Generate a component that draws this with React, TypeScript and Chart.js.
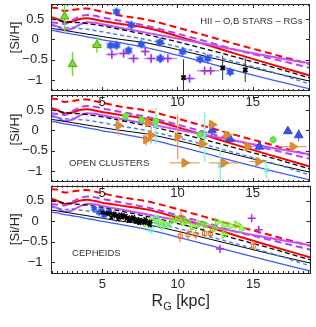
import React, { useEffect, useRef } from "react";
import { Chart, registerables } from "chart.js";
Chart.register(...registerables);

// ---------- axes ----------
const X_MIN = 1.6;
const X_MAX = 18.8;
const Y_MIN = -1.27;
const Y_MAX = 0.87;
const X_TICKS = [5, 10, 15];
const Y_TICKS = [-1, -0.5, 0, 0.5];
const Y_TICK_LABELS = ["\u22121", "\u22120.5", "0", "0.5"];

// ---------- model curves (same in all panels) ----------
const MODEL_R = [1.6, 2.0, 2.5, 3.0, 3.5, 4.0, 4.5, 5.0, 6.0, 8.0, 10.0, 12.0, 14.0, 16.0, 18.8];
const RED_DASHED = [0.78, 0.77, 0.70, 0.72, 0.75, 0.76, 0.72, 0.68, 0.60, 0.48, 0.29, 0.08, -0.13, -0.33, -0.61];
const RED_SOLID = [0.55, 0.50, 0.42, 0.44, 0.50, 0.52, 0.49, 0.45, 0.39, 0.28, 0.08, -0.14, -0.37, -0.59, -0.89];
const PURPLE_DASHED = [0.42, 0.40, 0.38, 0.47, 0.56, 0.60, 0.58, 0.54, 0.47, 0.33, 0.14, -0.06, -0.27, -0.45, -0.70];
const PURPLE_SOLID = [0.37, 0.32, 0.23, 0.26, 0.36, 0.42, 0.41, 0.37, 0.30, 0.16, 0.02, -0.12, -0.27, -0.41, -0.59];
const BLACK_DASHED = [0.50, 0.48, 0.44, 0.42, 0.41, 0.39, 0.36, 0.33, 0.26, 0.11, -0.06, -0.25, -0.45, -0.65, -0.95];
const BLACK_SOLID = [0.27, 0.25, 0.22, 0.19, 0.16, 0.13, 0.10, 0.07, 0.01, -0.09, -0.25, -0.43, -0.61, -0.79, -1.03];
const BLUE_DASHED = [0.34, 0.32, 0.28, 0.30, 0.27, 0.25, 0.22, 0.19, 0.12, -0.01, -0.18, -0.37, -0.57, -0.77, -1.10];
const BLUE_SOLID = [0.22, 0.20, 0.16, 0.13, 0.10, 0.06, 0.03, -0.01, -0.07, -0.21, -0.39, -0.58, -0.78, -0.97, -1.22];

// ---------- panel 1: HII regions, OB stars, red giants ----------
const HII_R = [2.5, 3.03, 4.65];
const HII_SI = [0.56, -0.61, -0.14];
const HII_ERR_SI = [0.4, 0.3, 0.19];
const HII_ERR_R = [0, 0, 0.35];

const OB_R = [5.95, 6.95, 5.55, 5.95, 6.75, 7.6, 8.84, 10.34, 11.5, 12.0, 8.84, 13.5];
const OB_SI = [0.68, 0.35, -0.15, -0.15, -0.27, -0.12, -0.07, -0.3, -0.49, -0.47, -0.47, -0.8];

const RGX_R = [10.4, 13.0, 14.5];
const RGX_SI = [-0.94, -0.7, -0.75];
const RGX_ERR_SI = [0.45, 0.3, 0.3];

const RG_R = [5.64, 6.42, 7.08, 7.86, 8.25, 8.9, 9.36, 10.8, 11.8, 12.2];
const RG_SI = [-0.37, -0.35, -0.47, -0.3, -0.47, -0.47, -0.47, -0.96, -0.77, -0.77];
const RG_ERR_R = [0.4, 0.5, 0.4, 0.3, 0.5, 0.4, 0.6, 0.4, 0.5, 0.6];
const RG_ERR_SI = [0.12, 0.1, 0.1, 0.1, 0.12, 0.1, 0.1, 0.1, 0.1, 0.1];

// ---------- panel 2: open clusters ----------
const OC1_R = [6.09, 8.05, 8.25, 7.92, 10.01, 12.3, 13.28, 14.65, 15.37, 17.66, 10.47, 13.08, 11.65];
const OC1_SI = [0.12, 0.19, -0.12, -0.23, -0.16, 0.14, -0.12, -0.4, -0.77, -0.4, -0.8, -0.8, -0.33];
const OC1_ERR_R = [0, 0, 0, 0, 0.2, 0.3, 0.3, 0, 0.6, 0.9, 1.0, 1.0, 0.4];
const OC1_ERR_SI = [0.25, 0.1, 0.2, 0.15, 0.55, 0.1, 0.1, 0.12, 0.1, 0.1, 0.1, 0.1, 0.1];

const OC2_R = [12.3, 13.48, 15.44, 17.33, 18.05];
const OC2_SI = [0.0, -0.21, -0.4, -0.02, -0.12];
const OC2_ERR_SI = [0, 0.08, 0.1, 0, 0.15];

const OC3_R = [16.35, 11.5, 6.55, 7.6, 8.57];
const OC3_SI = [-0.23, -0.1, 0.35, 0.26, 0.23];
const OC3_ERR_SI = [0.1, 0.08, 0.05, 0.05, 0.05];

const OC4_R = [12.84, 15.9, 11.8, 8.57];
const OC4_SI = [-0.87, -0.98, -0.16, 0.12];
const OC4_ERR_SI = [0.4, 0.2, 0.62, 0.45];

// ---------- panel 3: Cepheids ----------
const CEP_BLUE_R = [4.46, 4.78, 5.11, 5.44, 5.77, 4.95];
const CEP_BLUE_SI = [0.3, 0.21, 0.14, 0.23, 0.16, 0.26];

const CEP_BLACK_R = [5.0, 5.2, 5.4, 5.5, 5.7, 5.8, 5.9, 6.0, 6.1, 6.2, 6.3, 6.4, 6.5, 6.6, 6.7, 6.8, 6.9, 7.0, 7.1, 7.2, 7.3, 7.4, 7.5, 7.6, 7.7, 7.8, 7.9, 8.0, 8.1, 8.2, 6.05, 6.35, 6.75, 7.05, 7.45, 7.85, 8.15, 5.6, 6.55, 7.25];
const CEP_BLACK_SI = [0.21, 0.2, 0.17, 0.19, 0.15, 0.18, 0.12, 0.15, 0.1, 0.16, 0.08, 0.12, 0.1, 0.05, 0.09, 0.04, 0.08, 0.02, 0.06, 0.0, 0.05, 0.01, 0.03, -0.02, 0.02, -0.04, 0.0, -0.03, -0.06, -0.01, 0.04, 0.15, 0.0, 0.1, -0.05, 0.05, -0.1, 0.08, 0.13, -0.02];

const CEP_GREEN_R = [8.85, 9.69, 10.34, 10.99, 11.45, 11.84, 12.43, 12.63, 13.08, 13.48, 13.93, 14.26, 13.08, 7.9, 8.3, 9.2, 10.0, 10.6];
const CEP_GREEN_SI = [-0.02, 0.02, -0.02, -0.14, -0.07, -0.09, -0.19, -0.02, -0.09, -0.12, -0.09, -0.19, -0.33, -0.05, 0.0, -0.08, 0.05, 0.0];

const CEP_CYAN_R = [8.25, 8.7, 9.0, 8.58, 9.4];
const CEP_CYAN_SI = [-0.21, -0.07, -0.14, 0.09, -0.1];
const CEP_CYAN_ERR_SI = [0.1, 0.08, 0.1, 0.06, 0.08];

const CEP_SQ_R = [10.22, 10.16, 10.68, 11.2, 11.78, 12.17, 15.03];
const CEP_SQ_SI = [0.09, -0.37, -0.33, -0.33, -0.3, -0.3, -0.61];
const CEP_SQ_ERR_SI = [0.15, 0.15, 0.12, 0.12, 0.1, 0.12, 0.12];

const CEP_PURPLE_R = [14.9, 15.37, 12.8];
const CEP_PURPLE_SI = [0.07, -0.21, -0.68];

// ---------- styling ----------
const FONT = "'Liberation Sans', Arial, Helvetica, sans-serif";
const AXIS_COLOR = "#262626";
const PANEL_H = 91;
const PAD_TOP = 2;
const XAXIS_H = 20;

function pts(xs: number[], ys: number[]) {
  return xs.map((x, i) => ({ x, y: ys[i] }));
}

function errData(xs: number[], ys: number[], ex: number[] | null, ey: number[] | null) {
  const out: any[] = [];
  xs.forEach((x, i) => {
    const y = ys[i];
    if (ey && ey[i]) {
      out.push({ x, y: y - ey[i] }, { x, y: y + ey[i] }, { x, y: null });
    }
    if (ex && ex[i]) {
      out.push({ x: x - ex[i], y }, { x: x + ex[i], y }, { x, y: null });
    }
  });
  return out;
}

function errSet(data: any[], color: string, width = 1) {
  return {
    data,
    showLine: true,
    spanGaps: false,
    borderColor: color,
    borderWidth: width,
    pointRadius: 0,
    order: 5,
  };
}

function markSet(data: any[], style: any, color: string, fill: string, radius: number, extra: any = {}) {
  return {
    data,
    showLine: false,
    pointStyle: style,
    pointRadius: radius,
    borderColor: color,
    backgroundColor: fill,
    pointBorderWidth: 1,
    order: 1,
    ...extra,
  };
}

function modelSets() {
  const mk = (ys: number[], color: string, width: number, dash: number[]) => ({
    data: pts(MODEL_R, ys),
    showLine: true,
    borderColor: color,
    borderWidth: width,
    borderDash: dash,
    pointRadius: 0,
    cubicInterpolationMode: "monotone",
    order: 10,
  });
  return [
    mk(BLUE_SOLID, "#3a5cff", 1.3, []),
    mk(BLUE_DASHED, "#4c7dff", 1.5, [4, 3]),
    mk(BLACK_SOLID, "#000000", 1, []),
    mk(BLACK_DASHED, "#000000", 1.3, [5, 3]),
    mk(PURPLE_SOLID, "#c84dff", 2, []),
    mk(PURPLE_DASHED, "#b040ff", 2, [7, 4]),
    mk(RED_SOLID, "#ff0000", 2, []),
    mk(RED_DASHED, "#ff0000", 2, [7, 4]),
  ];
}

function hexagram(color: string, r: number) {
  const size = Math.ceil(r * 2 + 2);
  const c = document.createElement("canvas");
  c.width = size;
  c.height = size;
  const g = c.getContext("2d")!;
  const cx = size / 2;
  const cy = size / 2;
  g.fillStyle = color;
  for (const rot of [-Math.PI / 2, Math.PI / 2]) {
    g.beginPath();
    for (let k = 0; k < 3; k++) {
      const a = rot + (k * 2 * Math.PI) / 3;
      const px = cx + r * Math.cos(a);
      const py = cy + r * Math.sin(a);
      if (k === 0) g.moveTo(px, py);
      else g.lineTo(px, py);
    }
    g.closePath();
    g.fill();
  }
  return c;
}

function panelDatasets(k: number) {
  if (k === 0) {
    const star = hexagram("#2f55e8", 5);
    return [
      markSet(pts(HII_R, HII_SI), "triangle", "#4caa10", "#77dd33", 5),
      markSet(pts(OB_R, OB_SI), star, "#2f55e8", "#2f55e8", 5),
      markSet(pts(RGX_R, RGX_SI), "crossRot", "#000000", "#000000", 3, { pointBorderWidth: 2 }),
      markSet(pts(RG_R, RG_SI), "cross", "#a030f0", "#a030f0", 4, { pointBorderWidth: 1.5 }),
      errSet(errData(HII_R, HII_SI, HII_ERR_R, HII_ERR_SI), "#77dd33", 1.5),
      errSet(errData(RGX_R, RGX_SI, null, RGX_ERR_SI), "#333333", 1),
      errSet(errData(RG_R, RG_SI, RG_ERR_R, RG_ERR_SI), "#cf8bff", 1.5),
      ...modelSets(),
    ];
  }
  if (k === 1) {
    return [
      markSet(pts(OC1_R, OC1_SI), "triangle", "#d9822b", "#e08a2c", 5, { rotation: 90 }),
      markSet(pts(OC2_R, OC2_SI), "triangle", "#2f45e0", "#3a50f0", 5),
      markSet(pts(OC3_R, OC3_SI), "circle", "#55dd33", "#66ee44", 3),
      markSet(pts(OC4_R, OC4_SI), "crossRot", "#6fe8cc", "#6fe8cc", 3, { pointBorderWidth: 1.5 }),
      errSet(errData(OC1_R, OC1_SI, OC1_ERR_R, OC1_ERR_SI), "#e8a060", 1.3),
      errSet(errData(OC2_R, OC2_SI, null, OC2_ERR_SI), "#3a50f0", 1),
      errSet(errData(OC3_R, OC3_SI, null, OC3_ERR_SI), "#66ee44", 1),
      errSet(errData(OC4_R, OC4_SI, null, OC4_ERR_SI), "#8af5dc", 1.5),
      ...modelSets(),
    ];
  }
  const star = hexagram("#2f55e8", 4);
  return [
    markSet(pts(CEP_BLACK_R, CEP_BLACK_SI), "crossRot", "#000000", "#000000", 2.5, { pointBorderWidth: 1.5 }),
    markSet(pts(CEP_BLUE_R, CEP_BLUE_SI), star, "#2f55e8", "#2f55e8", 4),
    markSet(pts(CEP_GREEN_R, CEP_GREEN_SI), "triangle", "#6ee61e", "rgba(120,235,40,0.55)", 4.5, { rotation: 90 }),
    markSet(pts(CEP_CYAN_R, CEP_CYAN_SI), "rect", "#70f0d0", "rgba(112,240,208,0.3)", 3),
    markSet(pts(CEP_SQ_R, CEP_SQ_SI), "rect", "#f07020", "rgba(255,255,255,0)", 3),
    markSet(pts(CEP_PURPLE_R, CEP_PURPLE_SI), "cross", "#a030f0", "#a030f0", 4, { pointBorderWidth: 1.5 }),
    errSet(errData(CEP_CYAN_R, CEP_CYAN_SI, null, CEP_CYAN_ERR_SI), "#70f0d0", 1),
    errSet(errData(CEP_SQ_R, CEP_SQ_SI, null, CEP_SQ_ERR_SI), "#f07020", 1),
    ...modelSets(),
  ];
}

const PANEL_TEXT = [
  { text: "HII \u2013 O,B STARS \u2013 RGs", x: 18.3, y: 0.45, align: "right" },
  { text: "OPEN CLUSTERS", x: 2.8, y: -0.8, align: "left" },
  { text: "CEPHEIDS", x: 3.0, y: -0.8, align: "left" },
];
const YTITLE_SHIFT = [-10, -9, 0];

const framePlugin = {
  id: "frame",
  afterDatasetsDraw(chart: any, _args: any, opts: any) {
    const { ctx, chartArea: a, scales } = chart;
    const x = scales.x;
    const y = scales.y;
    ctx.save();
    ctx.strokeStyle = AXIS_COLOR;
    ctx.lineWidth = 1;
    ctx.strokeRect(Math.round(a.left) + 0.5, Math.round(a.top) + 0.5, Math.round(a.right - a.left) - 1, Math.round(a.bottom - a.top) - 1);
    ctx.beginPath();
    for (let k = -12; k <= 45; k++) {
      const v = 5 + k / 3;
      if (v <= X_MIN || v >= X_MAX) continue;
      const major = k % 15 === 0;
      const len = major ? 4 : 2;
      const px = Math.round(x.getPixelForValue(v)) + 0.5;
      ctx.moveTo(px, a.bottom);
      ctx.lineTo(px, a.bottom - len);
      ctx.moveTo(px, a.top);
      ctx.lineTo(px, a.top + len);
    }
    for (const v of Y_TICKS) {
      const py = Math.round(y.getPixelForValue(v)) + 0.5;
      ctx.moveTo(a.left, py);
      ctx.lineTo(a.left + 4, py);
      ctx.moveTo(a.right, py);
      ctx.lineTo(a.right - 4, py);
    }
    ctx.stroke();

    // panel annotation
    const t = PANEL_TEXT[opts.panel];
    ctx.fillStyle = "#333333";
    ctx.font = `9.5px ${FONT}`;
    ctx.textAlign = t.align;
    ctx.textBaseline = "middle";
    ctx.fillText(t.text, x.getPixelForValue(t.x), y.getPixelForValue(t.y));

    // y title
    ctx.save();
    ctx.translate(15, (a.top + a.bottom) / 2 + YTITLE_SHIFT[opts.panel]);
    ctx.rotate(-Math.PI / 2);
    ctx.font = `13px ${FONT}`;
    ctx.fillStyle = AXIS_COLOR;
    ctx.textAlign = "center";
    ctx.fillText("[Si/H]", 0, 0);
    ctx.restore();

    // x title on the last panel
    if (opts.panel === 2) {
      ctx.fillStyle = AXIS_COLOR;
      ctx.textBaseline = "alphabetic";
      ctx.textAlign = "left";
      const big = `16px ${FONT}`;
      const small = `11px ${FONT}`;
      ctx.font = big;
      const wR = ctx.measureText("R").width;
      const wRest = ctx.measureText(" [kpc]").width;
      ctx.font = small;
      const wG = ctx.measureText("G").width;
      const total = wR + wG + wRest;
      let cx = (a.left + a.right) / 2 - total / 2;
      const base = a.bottom + 33;
      ctx.font = big;
      ctx.fillText("R", cx, base);
      cx += wR;
      ctx.font = small;
      ctx.fillText("G", cx, base + 4);
      cx += wG;
      ctx.font = big;
      ctx.fillText(" [kpc]", cx, base);
    }
    ctx.restore();
  },
};

function Panel({ k }: { k: number }) {
  const ref = useRef<HTMLCanvasElement>(null);
  const padBottom = k === 2 ? 34 : 0;
  const height = PAD_TOP + PANEL_H + XAXIS_H + padBottom;
  useEffect(() => {
    const chart = new Chart(ref.current!, {
      type: "scatter",
      data: { datasets: panelDatasets(k) as any },
      options: {
        animation: false,
        responsive: false,
        maintainAspectRatio: false,
        layout: { padding: { top: PAD_TOP, right: 1, left: 0, bottom: padBottom } },
        plugins: {
          legend: { display: false },
          tooltip: { enabled: false },
          frame: { panel: k },
        } as any,
        scales: {
          x: {
            type: "linear",
            min: X_MIN,
            max: X_MAX,
            afterBuildTicks: (s: any) => {
              s.ticks = X_TICKS.map((v) => ({ value: v }));
            },
            afterFit: (s: any) => {
              s.height = XAXIS_H;
              s.paddingLeft = 0;
              s.paddingRight = 0;
            },
            grid: { display: false, drawTicks: false },
            border: { display: false },
            ticks: {
              color: AXIS_COLOR,
              font: { family: FONT, size: 13 },
              padding: 4,
              maxRotation: 0,
              autoSkip: false,
            },
          },
          y: {
            type: "linear",
            min: Y_MIN,
            max: Y_MAX,
            afterBuildTicks: (s: any) => {
              s.ticks = Y_TICKS.map((v) => ({ value: v }));
            },
            afterFit: (s: any) => {
              s.width = 51;
              s.paddingTop = 0;
              s.paddingBottom = 0;
            },
            grid: { display: false, drawTicks: false },
            border: { display: false },
            ticks: {
              color: AXIS_COLOR,
              font: { family: FONT, size: 13 },
              padding: 3,
              crossAlign: "center",
              autoSkip: false,
              callback: (v: any) => {
                const i = Y_TICKS.indexOf(Number(v));
                return i >= 0 ? Y_TICK_LABELS[i] : "";
              },
            },
          },
        },
      } as any,
      plugins: [framePlugin],
    });
    return () => chart.destroy();
  }, [k]);
  return (
    <canvas
      ref={ref}
      width={316}
      height={height}
      style={{
        position: "absolute",
        left: 0,
        top: k * PANEL_H - PAD_TOP,
        width: 316,
        height,
        zIndex: 3 - k,
      }}
    />
  );
}

export default function App() {
  return (
    <div style={{ position: "absolute", left: 0, top: 0, width: 316, height: 327, background: "#ffffff" }}>
      <Panel k={2} />
      <Panel k={1} />
      <Panel k={0} />
    </div>
  );
}
